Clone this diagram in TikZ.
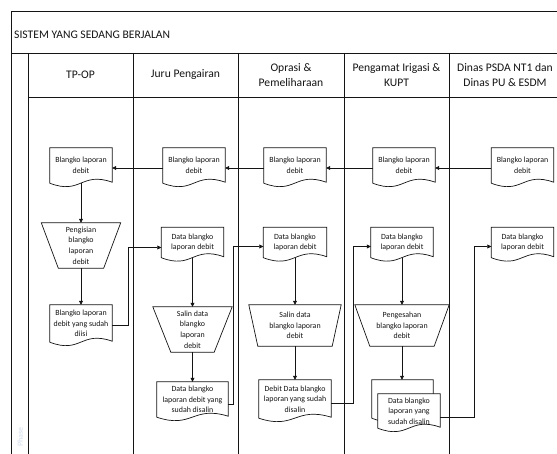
\documentclass[tikz,border=0pt]{standalone}
\usepackage{fontspec}
\setmainfont{Carlito}
\usetikzlibrary{arrows.meta,calc,backgrounds}
\definecolor{linecol}{RGB}{20,20,20}
\definecolor{phasecol}{RGB}{222,230,241}
\newcommand{\shapefont}{\fontsize{7.9}{10.7}\selectfont}
\newcommand{\headfont}{\fontsize{11.6}{15}\selectfont}
\newcommand{\docpath}[1]{%
  \draw[shp] (#1.south west) -- (#1.north west) -- (#1.north east) -- ($(#1.south east)+(0,-1)$)
    .. controls ($(#1.south west)!0.5!(#1.south east)+(0,-12)$) and ($(#1.south west)!0.5!(#1.south east)+(0,12)$) .. (#1.south west) -- cycle;}
\newcommand{\manop}[2]{%
  \draw[shp] (#1.north west) -- (#1.north east) -- ([xshift=-#2]#1.south east) -- ([xshift=#2]#1.south west) -- cycle;}
\tikzset{
  frame/.style={draw=linecol, line width=0.9pt},
  shp/.style={draw=linecol, line width=0.7pt, fill=white},
  box/.style={font=\shapefont, align=center, inner sep=0pt, text=linecol},
  arr/.style={draw=linecol, line width=0.7pt, -{Triangle[length=4pt,width=4pt]}},
  head/.style={font=\headfont, align=center, inner sep=0pt, text=linecol}
}
\begin{document}
\begin{tikzpicture}[x=1pt,y=-1pt]
\useasboundingbox (0,0) rectangle (557,454);
% title and headers
\node[head, anchor=west] (title) at (14,35) {SISTEM YANG SEDANG BERJALAN};
\node[head] (h1) at (80.5,75) {TP-OP};
\node[head] (h2) at (185.5,75) {Juru Pengairan};
\node[head] (h3) at (291,75) {Oprasi \&\\Pemeliharaan};
\node[head] (h4) at (396.5,75) {Pengamat Irigasi \&\\KUPT};
\node[head] (h5) at (505,75) {Dinas PSDA NT1 dan\\Dinas PU \& ESDM};
\node[rotate=90, text=phasecol, font=\fontsize{8}{8}\selectfont\bfseries, inner sep=0pt] (phase) at (20,437) {Phase};
% row 1 documents
\node[box, minimum width=62pt, minimum height=35pt] (d1a) at (81,165.5) {Blangko laporan\\debit};
\node[box, minimum width=62pt, minimum height=35pt] (d2a) at (194,165.5) {Blangko laporan\\debit};
\node[box, minimum width=62pt, minimum height=35pt] (d3a) at (295,165.5) {Blangko laporan\\debit};
\node[box, minimum width=62pt, minimum height=35pt] (d4a) at (404,165.5) {Blangko laporan\\debit};
\node[box, minimum width=62pt, minimum height=35pt] (d5a) at (522.5,165.5) {Blangko laporan\\debit};
% row 2 documents
\node[box, minimum width=62pt, minimum height=30pt] (d2b) at (192.5,242.5) {Data blangko\\laporan debit};
\node[box, minimum width=63pt, minimum height=30pt] (d3b) at (295,242.5) {Data blangko\\laporan debit};
\node[box, minimum width=62pt, minimum height=30pt] (d4b) at (402,242.5) {Data blangko\\laporan debit};
\node[box, minimum width=62pt, minimum height=30pt] (d5b) at (522.5,242.5) {Data blangko\\laporan debit};
% manual operations
\node[box, minimum width=79pt, minimum height=45pt] (t1) at (81,245.5) {Pengisian\\blangko\\laporan\\debit};
\node[box, minimum width=79pt, minimum height=45pt] (t2) at (192.5,329.5) {Salin data\\blangko\\laporan\\debit};
\node[box, minimum width=92pt, minimum height=41pt] (t3) at (295,325.5) {Salin data\\blangko laporan\\debit};
\node[box, minimum width=94pt, minimum height=41pt] (t4) at (402,325.5) {Pengesahan\\blangko laporan\\debit};
% lower documents
\node[box, minimum width=62pt, minimum height=37pt] (d1c) at (81,323.5) {Blangko laporan\\debit yang sudah\\diisi};
\node[box, minimum width=71pt, minimum height=35pt] (d2d) at (192.5,399.5) {Data blangko\\laporan debit yang\\sudah disalin};
\node[box, minimum width=72pt, minimum height=38pt] (d3d) at (295,399) {Debit Data blangko\\laporan yang sudah\\disalin};
\node[box, minimum width=61pt, minimum height=38pt] (d4back) at (402.5,399) {};
\node[box, minimum width=62pt, minimum height=34pt] (d4d) at (409,411) {Data blangko\\laporan yang\\sudah disalin};
\begin{pgfonlayer}{background}
  \draw[frame] (11,454) -- (11,11) -- (557,11);
  \draw[frame] (11,53) -- (557,53);
  \draw[frame] (28,97) -- (557,97);
  \foreach \x in {28,133,238,344,449} { \draw[frame] (\x,53) -- (\x,454); }
  \docpath{d1a}\docpath{d2a}\docpath{d3a}\docpath{d4a}\docpath{d5a}
  \docpath{d2b}\docpath{d3b}\docpath{d4b}\docpath{d5b}
  \manop{t1}{17pt}\manop{t2}{18pt}\manop{t3}{9pt}\manop{t4}{15pt}
  \docpath{d1c}\docpath{d2d}\docpath{d3d}
  \docpath{d4back}\docpath{d4d}
\end{pgfonlayer}
% horizontal flow row 1
\draw[arr] ($(d5a.west)+(0,2.5)$) -- ($(d4a.east)+(0,2.5)$);
\draw[arr] ($(d4a.west)+(0,2.5)$) -- ($(d3a.east)+(0,2.5)$);
\draw[arr] ($(d3a.west)+(0,2.5)$) -- ($(d2a.east)+(0,2.5)$);
\draw[arr] ($(d2a.west)+(0,2.5)$) -- ($(d1a.east)+(0,2.5)$);
% vertical flows
\draw[arr] (d1a.south) -- (d1a.south |- t1.north);
\draw[arr] (t1.south) -- (t1.south |- d1c.north);
\draw[arr] (d2b.south) -- (d2b.south |- t2.north);
\draw[arr] (t2.south) -- (t2.south |- d2d.north);
\draw[arr] (d3b.south) -- (d3b.south |- t3.north);
\draw[arr] (t3.south) -- (t3.south |- d3d.north);
\draw[arr] (d4b.south) -- (d4b.south |- t4.north);
\draw[arr] (t4.south) -- (t4.south |- d4back.north);
% elbow connectors
\draw[arr] ($(d1c.east)+(0,1.5)$) -- ++(16,0) |- ($(d2b.west)+(0,5)$);
\draw[arr] ($(d2d.east)+(0,5)$) -- ++(5,0) |- ($(d3b.west)+(0,4)$);
\draw[arr] ($(d3d.east)+(0,4)$) -- ++(22,0) |- ($(d4b.west)+(0,4)$);
\draw[arr] ($(d4d.east)+(0,6)$) -- ++(34,0) |- ($(d5b.west)+(0,4)$);
\end{tikzpicture}
\end{document}
